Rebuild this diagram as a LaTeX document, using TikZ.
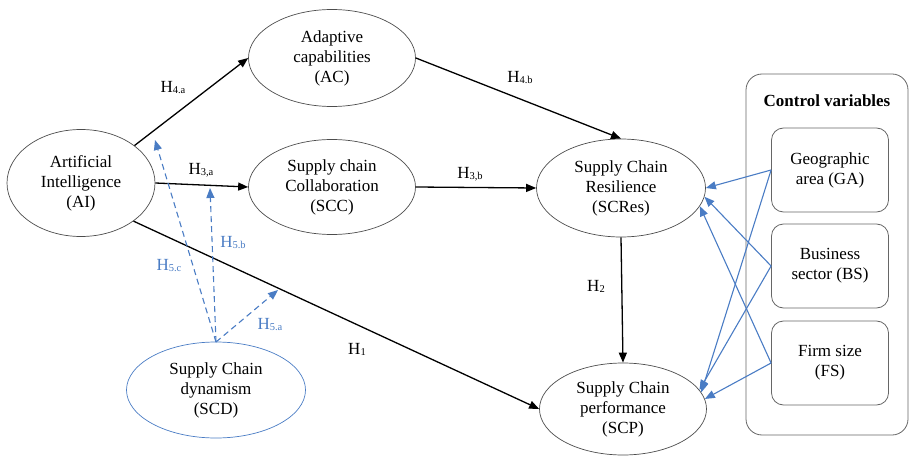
\documentclass[tikz,border=0pt]{standalone}
\usepackage{fontspec}
\setmainfont{Liberation Serif}
\usetikzlibrary{shapes.geometric,arrows.meta}
\definecolor{cblue}{HTML}{4A7CC4}
\newcommand{\hsub}[2]{H{\fontsize{10.5}{10}\selectfont\raisebox{-1pt}{#2}}}
\begin{document}
\begin{tikzpicture}[x=1pt,y=-1pt,
  every node/.style={font=\fontsize{17}{20}\selectfont},
  ell/.style={ellipse,draw=black!70,line width=0.7pt,align=center,inner sep=0pt},
  cvbox/.style={draw=black!60,line width=0.8pt,rounded corners=12pt,minimum width=117pt,minimum height=84pt,align=center},
  blk/.style={line width=1.3pt,-{Triangle[length=10pt,width=8pt]}},
  bl/.style={cblue,line width=1.1pt,-{Triangle[length=10pt,width=8pt]}},
  bld/.style={cblue,line width=1.1pt,dashed,dash pattern=on 6pt off 4pt,-{Triangle[length=10pt,width=8pt]}},
  lab/.style={font=\fontsize{17}{20}\selectfont},
  blab/.style={font=\fontsize{17}{20}\selectfont,text=cblue}]
\useasboundingbox (0,0) rectangle (910,457);
% nodes
\node[ell,minimum width=148pt,minimum height=107pt] (ai) at (81,183) {Artificial\\Intelligence\\(AI)};
\node[ell,minimum width=167pt,minimum height=97pt] (ac) at (332,58) {Adaptive\\capabilities\\(AC)};
\node[ell,minimum width=167pt,minimum height=95pt] (scc) at (332,187) {Supply chain\\Collaboration\\(SCC)};
\node[ell,minimum width=169pt,minimum height=98pt] (scres) at (621,188) {Supply Chain\\Resilience\\(SCRes)};
\node[ell,minimum width=167pt,minimum height=92pt] (scp) at (623,409) {Supply Chain\\performance\\(SCP)};
\node[ell,draw=cblue,minimum width=179pt,minimum height=96pt] (scd) at (216,390) {Supply Chain\\dynamism\\(SCD)};
% control variables
\draw[black!60,line width=0.8pt,rounded corners=16pt] (746,74) rectangle (908,435);
\node[font=\bfseries\fontsize{17}{20}\selectfont] (cvt) at (827,101) {Control variables};
\node[cvbox] (ga) at (830,170) {Geographic\\area (GA)};
\node[cvbox] (bs) at (830,266) {Business\\sector (BS)};
\node[cvbox] (fs) at (830,363) {Firm size\\(FS)};
% black arrows
\draw[blk] (ai.35) -- (ac.west);
\draw[blk] (ai.east) -- (scc.west);
\draw[blk] (ac.east) -- (scres.north);
\draw[blk] (scc.east) -- (scres.west);
\draw[blk] (scres.south) -- (scp.north);
\draw[blk] (ai.-36) -- (scp.west);
% labels
\node[lab] (l4a) at (173,88) {\hsub{H}{4.a}};
\node[lab] (l3a) at (201,170) {\hsub{H}{3,a}};
\node[lab] (l4b) at (520,78) {\hsub{H}{4.b}};
\node[lab] (l3b) at (470,174) {\hsub{H}{3,b}};
\node[lab] (l2) at (596,286) {\hsub{H}{2}};
\node[lab] (l1) at (357,349) {\hsub{H}{1}};
% moderation
\coordinate (sd) at (216,342);
\coordinate (t5c) at (155,140);
\coordinate (t5b) at (210,188);
\coordinate (t5a) at (278,290);
\draw[bld] (sd) -- (t5c);
\draw[bld] (sd) -- (t5b);
\draw[bld] (sd) -- (t5a);
\node[blab] (l5c) at (169,266) {\hsub{H}{5.c}};
\node[blab] (l5b) at (233,243) {\hsub{H}{5.b}};
\node[blab] (l5a) at (270,325) {\hsub{H}{5.a}};
% control arrows
\draw[bl] (ga.west) -- (scres.east);
\draw[bl] (ga.west) -- (scp.12);
\draw[bl] (bs.west) -- (scres.-6);
\draw[bl] (bs.west) -- (scp.14);
\draw[bl] (fs.west) -- (scres.-13);
\draw[bl] (fs.west) -- (scp.7);
\end{tikzpicture}
\end{document}
